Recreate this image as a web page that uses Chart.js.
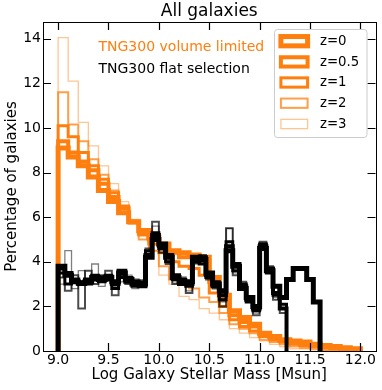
<!DOCTYPE html>
<html>
<head>
<meta charset="utf-8">
<script src="https://cdn.jsdelivr.net/npm/chart.js@4"></script>
<style>
  html, body { margin: 0; padding: 0; background: #fff; }
  canvas { display: block; }
</style>
</head>
<body>
<canvas id="myChart" width="382" height="390"></canvas>
<script>
'use strict';

// bin edges (log stellar mass)
const volEdges = [9.0, 9.1, 9.2, 9.3, 9.4, 9.5, 9.6, 9.7, 9.8, 9.9, 10.0, 10.1, 10.2, 10.3, 10.4, 10.5,
  10.6, 10.7, 10.8, 10.9, 11.0, 11.1, 11.2, 11.3, 11.4, 11.5, 11.6, 11.7, 11.8, 11.9, 12.0];
const flatEdges = [9.0, 9.067, 9.133, 9.2, 9.267, 9.333, 9.4, 9.467, 9.533, 9.6, 9.667, 9.733, 9.8, 9.867,
  9.933, 10.0, 10.067, 10.133, 10.2, 10.267, 10.333, 10.4, 10.467, 10.533, 10.6, 10.667, 10.733, 10.8,
  10.867, 10.933, 11.0, 11.067, 11.133, 11.2, 11.267, 11.333, 11.4, 11.467, 11.533, 11.6];

// TNG300 volume limited (percent per bin)
const volZ0 = [9.1, 8.7, 8.3, 7.8, 7.2, 6.7, 6.2, 5.8, 5.4, 5.1, 4.8, 4.5, 4.4, 4.3, 4.2, 3.3, 2.5, 1.8, 1.5, 1.2,
  0.8, 0.65, 0.5, 0.45, 0.4, 0.3, 0.25, 0.2, 0.15, 0.1];
const volZ05 = [9.4, 8.9, 8.5, 8.1, 7.5, 6.9, 6.4, 5.8, 5.3, 5.0, 4.7, 4.4, 4.2, 4.2, 4.0, 3.1, 2.3, 1.6, 1.3, 1.1,
  0.7, 0.6, 0.45, 0.4, 0.3, 0.25, 0.2, 0.15, 0.1, 0.05];
const volZ1 = [10.1, 9.6, 8.9, 8.3, 7.7, 7.1, 6.5, 5.8, 5.2, 4.8, 4.4, 4.0, 3.8, 3.7, 3.4, 2.6, 2.0, 1.4, 1.1, 0.9,
  0.65, 0.5, 0.4, 0.3, 0.25, 0.2, 0.15, 0.1, 0.05, 0.0];
const volZ2 = [11.6, 10.15, 9.4, 8.6, 7.9, 7.2, 6.4, 5.7, 5.0, 4.5, 3.8, 3.2, 3.0, 2.8, 2.4, 2.2, 1.7, 1.2, 1.0, 0.8,
  0.5, 0.4, 0.3, 0.2, 0.15, 0.1, 0.05, 0.05, 0.0, 0.0];
const volZ3 = [14.05, 12.1, 10.25, 9.2, 8.3, 7.5, 6.7, 5.9, 5.2, 4.5, 3.4, 3.0, 2.45, 2.3, 1.9, 1.7, 1.4, 1.0, 0.8, 0.6,
  0.45, 0.3, 0.2, 0.1, 0.1, 0.05, 0.0, 0.0, 0.0, 0.0];

// TNG300 flat selection (percent per bin)
const flatZ0 = [3.8, 3.4, 3.1, 3.05, 3.1, 3.3, 3.2, 3.3, 3.1, 3.5, 3.2, 3.0, 3.0, 4.2, 5.0,
  4.8, 4.2, 3.3, 3.1, 3.1, 4.2, 4.1, 3.5, 3.0, 2.7, 4.5, 3.8, 2.8, 2.4, 2.0,
  4.6, 3.6, 2.9, 2.4, 3.2, 3.7, 3.7, 3.2, 2.2];
const flatZ05 = [3.7, 3.5, 3.2, 3.0, 3.2, 3.2, 3.3, 3.2, 3.0, 3.6, 3.1, 3.1, 2.9, 4.3, 5.2,
  4.7, 4.3, 3.4, 3.0, 3.0, 4.0, 4.2, 3.4, 2.9, 2.5, 4.7, 3.9, 2.9, 2.3, 1.9,
  4.7, 3.7, 2.6, 1.9];
const flatZ1 = [3.5, 3.0, 3.2, 3.1, 3.0, 3.4, 3.1, 3.4, 2.8, 3.3, 3.3, 2.9, 3.1, 4.5, 5.3,
  4.6, 4.0, 3.2, 3.2, 2.9, 4.2, 3.9, 3.3, 3.1, 2.3, 4.9, 3.6, 3.0, 2.2, 1.8,
  4.8, 3.5, 2.5, 2.1];
const flatZ2 = [3.3, 2.7, 3.4, 1.9, 3.6, 3.0, 3.4, 3.6, 2.5, 3.4, 3.0, 3.2, 2.9, 4.6, 5.8,
  4.4, 3.9, 3.0, 3.3, 2.6, 4.1, 4.3, 3.2, 2.8, 2.0, 5.5, 3.4, 3.1, 2.4, 1.6,
  4.9, 3.8, 2.3, 1.7];
const flatZ3 = [3.0, 4.5, 2.8, 3.6, 3.0, 3.9, 2.9, 3.2, 2.9, 3.1, 3.4, 2.8, 3.2, 4.4, 5.6,
  4.5, 4.2, 3.1, 3.0, 2.7, 3.9, 4.0, 3.3, 3.0, 2.2, 5.5, 3.5, 2.9, 2.3, 1.7,
  4.85, 3.6, 2.4, 1.9];

const zLabels = ['z=0', 'z=0.5', 'z=1', 'z=2', 'z=3'];
const lineWidths = [5, 4, 3, 2, 1.3];
const orangeColors = ['#ff7f0e', '#ff7f0e', '#ff7f0e', 'rgba(255,127,14,0.75)', 'rgba(255,127,14,0.45)'];
const blackColors = ['#000000', '#000000', '#000000', 'rgba(0,0,0,0.7)', 'rgba(0,0,0,0.5)'];
const xTicks = [9.0, 9.5, 10.0, 10.5, 11.0, 11.5, 12.0];
const yTicks = [0, 2, 4, 6, 8, 10, 12, 14];

// step outline like matplotlib histtype='step'
function stepPoints(edges, vals) {
  const pts = [{ x: edges[0], y: 0 }];
  vals.forEach((v, i) => pts.push({ x: edges[i], y: v }));
  pts.push({ x: edges[vals.length], y: vals[vals.length - 1] });
  pts.push({ x: edges[vals.length], y: 0 });
  return pts;
}

const volSeries = [volZ0, volZ05, volZ1, volZ2, volZ3];
const flatSeries = [flatZ0, flatZ05, flatZ1, flatZ2, flatZ3];

const datasets = [];
volSeries.forEach((vals, i) => {
  datasets.push({
    label: zLabels[i],
    data: stepPoints(volEdges, vals),
    borderColor: orangeColors[i],
    borderWidth: lineWidths[i],
    legendRow: i,
    order: 20 + i
  });
});
flatSeries.forEach((vals, i) => {
  datasets.push({
    label: 'flat ' + zLabels[i],
    data: stepPoints(flatEdges, vals),
    borderColor: blackColors[i],
    borderWidth: lineWidths[i],
    order: 10 - i
  });
});

const FONT = 'DejaVu Sans';

const frameAndTicks = {
  id: 'frameAndTicks',
  afterDatasetsDraw(chart) {
    const { ctx, chartArea: a, scales } = chart;
    ctx.save();
    ctx.strokeStyle = '#000';
    ctx.lineWidth = 1.2;
    const len = 8;
    xTicks.forEach(t => {
      const x = Math.round(scales.x.getPixelForValue(t)) + 0.5;
      ctx.beginPath();
      ctx.moveTo(x, a.bottom); ctx.lineTo(x, a.bottom - len);
      ctx.moveTo(x, a.top); ctx.lineTo(x, a.top + len);
      ctx.stroke();
    });
    yTicks.forEach(t => {
      const y = Math.round(scales.y.getPixelForValue(t)) + 0.5;
      ctx.beginPath();
      ctx.moveTo(a.left, y); ctx.lineTo(a.left + len, y);
      ctx.moveTo(a.right, y); ctx.lineTo(a.right - len, y);
      ctx.stroke();
    });
    ctx.lineWidth = 1;
    ctx.strokeRect(Math.round(a.left) + 0.5, Math.round(a.top) + 0.5,
      Math.round(a.right - a.left), Math.round(a.bottom - a.top));

    // text labels
    ctx.font = '14px "' + FONT + '"';
    ctx.textAlign = 'left';
    ctx.textBaseline = 'alphabetic';
    ctx.fillStyle = '#ff7f0e';
    ctx.fillText('TNG300 volume limited', 98.5, 50.5);
    ctx.fillStyle = '#000';
    ctx.fillText('TNG300 flat selection', 98.5, 73);

    // legend box
    const lx = 274.5, ly = 29.5, lw = 92.5, lh = 108;
    ctx.beginPath();
    ctx.roundRect(lx, ly, lw, lh, 3);
    ctx.fillStyle = 'rgba(255,255,255,0.8)';
    ctx.fill();
    ctx.strokeStyle = '#cccccc';
    ctx.lineWidth = 1;
    ctx.stroke();
    const rowY = [41.2, 61.9, 82.5, 103.2, 124];
    ctx.font = '13.3px "' + FONT + '"';
    ctx.textBaseline = 'middle';
    chart.data.datasets.forEach(ds => {
      if (ds.legendRow === undefined) return;
      const y = rowY[ds.legendRow];
      ctx.strokeStyle = ds.borderColor;
      ctx.lineWidth = ds.borderWidth;
      ctx.lineJoin = 'miter';
      ctx.strokeRect(280.9, y - 4.65, 26.7, 9.3);
      ctx.fillStyle = '#000';
      ctx.fillText(ds.label, 320, y + 0.5);
    });
    ctx.restore();
  }
};

const ctx = document.getElementById('myChart').getContext('2d');
const myChart = new Chart(ctx, {
  type: 'line',
  data: { datasets: datasets },
  options: {
    responsive: false,
    animation: false,
    devicePixelRatio: 1,
    layout: { padding: { top: 0, right: 6.5, left: 0, bottom: 0 } },
    elements: {
      point: { radius: 0 },
      line: { stepped: true, fill: false, tension: 0, borderJoinStyle: 'miter', borderCapStyle: 'butt' }
    },
    plugins: {
      legend: { display: false },
      tooltip: { enabled: false },
      title: {
        display: true,
        text: 'All galaxies',
        fullSize: false,
        color: '#000',
        font: { family: FONT, size: 17, weight: 'normal' },
        padding: { top: 1, bottom: 0.6 }
      }
    },
    scales: {
      x: {
        type: 'linear',
        min: 8.85,
        max: 12.15,
        grid: { display: false, drawTicks: false },
        border: { display: false },
        afterBuildTicks: s => { s.ticks = xTicks.map(v => ({ value: v })); },
        afterFit: s => { s.height = 39; },
        ticks: {
          padding: 1,
          color: '#000',
          font: { family: FONT, size: 14 },
          maxRotation: 0,
          callback: v => Number(v).toFixed(1)
        },
        title: {
          display: true,
          text: 'Log Galaxy Stellar Mass [Msun]',
          color: '#000',
          font: { family: FONT, size: 15 },
          padding: { top: 0, bottom: 6 }
        }
      },
      y: {
        min: 0,
        max: 14.75,
        grid: { display: false, drawTicks: false },
        border: { display: false },
        afterBuildTicks: s => { s.ticks = yTicks.map(v => ({ value: v })); },
        afterFit: s => { s.width = 43; },
        ticks: {
          padding: 2,
          color: '#000',
          font: { family: FONT, size: 14 },
          callback: v => String(v)
        },
        title: {
          display: true,
          text: 'Percentage of galaxies',
          color: '#000',
          font: { family: FONT, size: 15 },
          padding: { top: 3, bottom: 0 }
        }
      }
    }
  },
  plugins: [frameAndTicks]
});
</script>
</body>
</html>
